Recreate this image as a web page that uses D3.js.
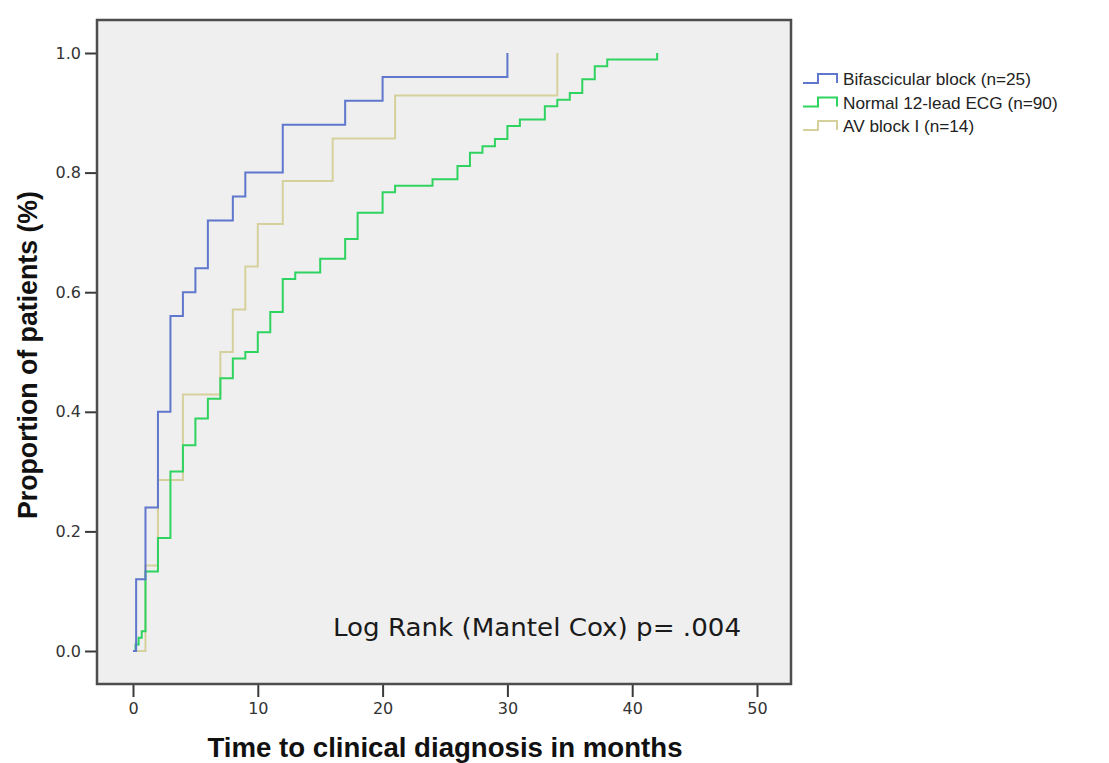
<!DOCTYPE html>
<html>
<head>
<meta charset="utf-8">
<script src="https://cdn.jsdelivr.net/npm/d3@7/dist/d3.min.js"></script>
<style>
  html, body { margin: 0; padding: 0; background: #fff; }
  svg { display: block; }
</style>
</head>
<body>
<div id="chart"></div>
<script>
// time (months) at each step, and cumulative proportion after the step
const bifTimes  = [0, 0.25, 1, 2, 3, 4, 5, 6, 8, 9, 12, 17, 20, 30];
const bifValues = [0, 0.12, 0.24, 0.40, 0.56, 0.60, 0.64, 0.72, 0.76, 0.80, 0.88, 0.92, 0.96, 1.0];

const ecgTimes  = [0, 0.2, 0.45, 0.7, 1, 2, 3, 4, 5, 6, 7, 8, 9, 10, 11, 12, 13, 15, 17, 18,
                   20, 21, 24, 26, 27, 28, 29, 30, 31, 33, 34, 35, 36, 37, 38, 42];
const ecgValues = [0, 0.011, 0.022, 0.033, 0.133, 0.189, 0.300, 0.344, 0.389, 0.422, 0.456,
                   0.489, 0.500, 0.533, 0.567, 0.622, 0.633, 0.656, 0.689, 0.733, 0.767, 0.778,
                   0.789, 0.811, 0.833, 0.844, 0.856, 0.878, 0.889, 0.911, 0.922, 0.933, 0.956,
                   0.978, 0.989, 1.0];

const avTimes  = [0, 1, 2, 4, 7, 8, 9, 10, 12, 16, 21, 34];
const avValues = [0, 0.143, 0.286, 0.429, 0.500, 0.571, 0.643, 0.714, 0.786, 0.857, 0.929, 1.0];

const seriesNames = ["Bifascicular block (n=25)", "Normal 12-lead ECG (n=90)", "AV block I (n=14)"];
const xTicks = [0, 10, 20, 30, 40, 50];
const yTicks = [0, 0.2, 0.4, 0.6, 0.8, 1.0];

const width = 1109, height = 763;
const frame = { left: 97, top: 20, right: 791, bottom: 684 };

const series = [
  { name: seriesNames[0], times: bifTimes, values: bifValues, color: "#5f77cc" },
  { name: seriesNames[1], times: ecgTimes, values: ecgValues, color: "#2fd35f" },
  { name: seriesNames[2], times: avTimes, values: avValues, color: "#d6d19c" }
];

const svg = d3.select("#chart").append("svg")
  .attr("width", width)
  .attr("height", height);

const x = d3.scaleLinear().domain([0, 50]).range([133, 757]);
const y = d3.scaleLinear().domain([0, 1]).range([651, 53]);

// plot background
svg.append("rect")
  .attr("x", frame.left)
  .attr("y", frame.top)
  .attr("width", frame.right - frame.left)
  .attr("height", frame.bottom - frame.top)
  .attr("fill", "#efefef");

// axes
const yAxis = d3.axisLeft(y)
  .tickValues(yTicks)
  .tickSize(12)
  .tickPadding(4)
  .tickFormat(d3.format(".1f"));

const gy = svg.append("g")
  .attr("transform", `translate(${frame.left},0)`)
  .call(yAxis);

const xAxis = d3.axisBottom(x)
  .tickValues(xTicks)
  .tickSize(13)
  .tickPadding(6)
  .tickFormat(d3.format("d"));

const gx = svg.append("g")
  .attr("transform", `translate(0,${frame.bottom})`)
  .call(xAxis);

[gx, gy].forEach(g => {
  g.select(".domain").remove();
  g.selectAll(".tick line").attr("stroke", "#3a3a3a").attr("stroke-width", 2);
  g.selectAll(".tick text")
    .attr("fill", "#333")
    .style("font-family", "'DejaVu Sans', sans-serif")
    .style("font-size", "16px");
});

// survival step curves
const line = d3.line()
  .x(d => x(d[0]))
  .y(d => y(d[1]))
  .curve(d3.curveStepAfter);

const plot = svg.append("g");
// draw yellow first, then green, then blue on top
[2, 1, 0].forEach(i => {
  const s = series[i];
  plot.append("path")
    .datum(d3.zip(s.times, s.values))
    .attr("d", line)
    .attr("fill", "none")
    .attr("stroke", s.color)
    .attr("stroke-width", 2);
});

// frame
svg.append("rect")
  .attr("x", frame.left)
  .attr("y", frame.top)
  .attr("width", frame.right - frame.left)
  .attr("height", frame.bottom - frame.top)
  .attr("fill", "none")
  .attr("stroke", "#4d4d4d")
  .attr("stroke-width", 2.5);

// annotation
svg.append("text")
  .attr("x", 333)
  .attr("y", 636)
  .attr("textLength", 408)
  .attr("lengthAdjust", "spacingAndGlyphs")
  .style("font-family", "'DejaVu Sans', sans-serif")
  .style("font-size", "24px")
  .attr("fill", "#1a1a1a")
  .text("Log Rank (Mantel Cox) p= .004");

// axis titles
svg.append("text")
  .attr("x", 445)
  .attr("y", 757)
  .attr("text-anchor", "middle")
  .attr("textLength", 475)
  .attr("lengthAdjust", "spacingAndGlyphs")
  .style("font-family", "'Liberation Sans Narrow', 'Liberation Sans', sans-serif")
  .style("font-size", "27px")
  .style("font-weight", "bold")
  .attr("fill", "#111")
  .text("Time to clinical diagnosis in months");

svg.append("text")
  .attr("transform", "translate(37,355) rotate(-90)")
  .attr("text-anchor", "middle")
  .attr("textLength", 328)
  .attr("lengthAdjust", "spacingAndGlyphs")
  .style("font-family", "'Liberation Sans Narrow', 'Liberation Sans', sans-serif")
  .style("font-size", "27px")
  .style("font-weight", "bold")
  .attr("fill", "#111")
  .text("Proportion of patients (%)");

// legend: one font size for all rows, fitted so the first row is ~188px wide
const legend = svg.append("g");
const labels = series.map((s, i) => {
  const cy = 79 + i * 23.5;
  legend.append("path")
    .attr("d", `M803,${cy + 4}H818V${cy - 5}H837V${cy + 4}`)
    .attr("fill", "none")
    .attr("stroke", s.color)
    .attr("stroke-width", 2);
  return legend.append("text")
    .attr("x", 843)
    .attr("y", cy + 6)
    .style("font-family", "'Liberation Sans', Arial, sans-serif")
    .style("font-size", "16px")
    .attr("fill", "#222")
    .text(s.name);
});
const w0 = labels[0].node().getComputedTextLength();
const fs = Math.min(18, 16 * 188 / w0);
labels.forEach(t => t.style("font-size", fs + "px"));
</script>
</body>
</html>
